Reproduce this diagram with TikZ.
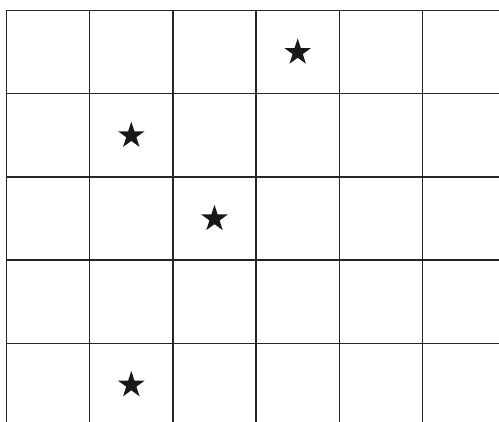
\documentclass[tikz,border=0pt]{standalone}
\usetikzlibrary{shapes.geometric}
\begin{document}
\begin{tikzpicture}[x=1pt,y=-1pt,
  gridline/.style={draw=black!85,line width=1.4pt},
  starmark/.style={star,star points=5,star point ratio=2.618,minimum size=28pt,inner sep=0pt,fill=black!90,draw=none}]
\useasboundingbox (0,0) rectangle (499,422);
\foreach \x in {6.5,89.7,172.9,256.1,339.3,422.5} \draw[gridline] (\x,10.5) -- (\x,422);
\foreach \y in {10.5,93.7,176.9,260.1,343.3} \draw[gridline] (6.5,\y) -- (499,\y);
\node[starmark] (s1) at (297.7,52.4) {};
\node[starmark] (s2) at (131.3,135.6) {};
\node[starmark] (s3) at (214.5,218.8) {};
\node[starmark] (s4) at (131.3,385) {};
\end{tikzpicture}
\end{document}
